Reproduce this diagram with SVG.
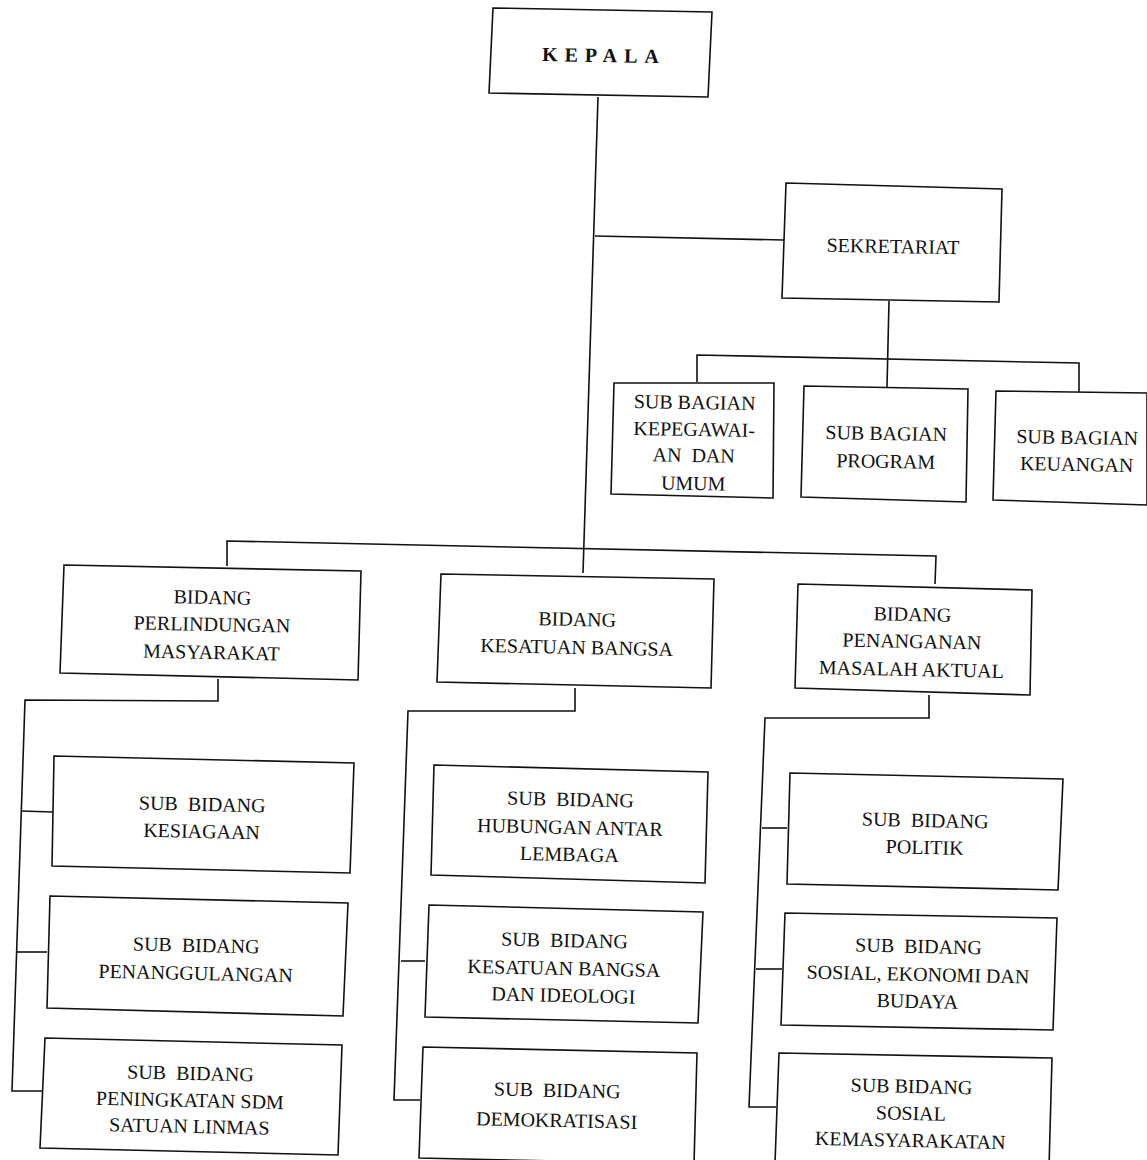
<svg xmlns="http://www.w3.org/2000/svg" width="1147" height="1160" viewBox="0 0 1147 1160">
<style>
.box{fill:none;stroke:#111;stroke-width:1.6;stroke-linejoin:miter}
.ln{fill:none;stroke:#111;stroke-width:1.6}
text{font-family:"Liberation Serif","Times New Roman",serif;font-size:20px;fill:#111;text-anchor:middle;white-space:pre}
.head{font-weight:bold;font-size:20px;letter-spacing:7px}
</style>
<rect width="1147" height="1160" fill="#fff"/>
<g id="connectors">
<path class="ln" d="M598,97 L583,573"/>
<path class="ln" d="M595,236 L784,240"/>
<path class="ln" d="M889,301 L887,387"/>
<path class="ln" d="M697,382 L697,355 L1079,363 L1079,392"/>
<path class="ln" d="M227,566 L227,541 L936,556 L935,584"/>
<path class="ln" d="M218,679 L218,701 L25,700 L12,1091 L42,1091"/>
<path class="ln" d="M21,811 L53,812"/>
<path class="ln" d="M17,952 L47,952"/>
<path class="ln" d="M575,688 L575,711 L408,711 L394,1100 L420,1100"/>
<path class="ln" d="M401,961 L425,961"/>
<path class="ln" d="M929,695 L929,718 L765,718 L749,1107 L776,1107"/>
<path class="ln" d="M762,828 L787,828"/>
<path class="ln" d="M756,969 L782,969"/>
</g>
<g id="kepala">
<polygon class="box" points="493,8 712,12 708,97 489,93"/>
<text class="head" x="604" y="62" transform="rotate(1 600 55)">KEPALA</text>
</g>
<g id="sekretariat">
<polygon class="box" points="786,183 1002,189 999,302 782,298"/>
<text x="893" y="253" transform="rotate(1 893 246)">SEKRETARIAT</text>
</g>
<g id="sub-bagian-kepegawaian">
<polygon class="box" points="614,383 774,383 773,498 611,494"/>
<g transform="rotate(1 693 440)">
<text x="694" y="409">SUB BAGIAN</text>
<text x="694" y="436">KEPEGAWAI-</text>
<text x="694" y="462">AN  DAN</text>
<text x="694" y="490">UMUM</text>
</g>
</g>
<g id="sub-bagian-program">
<polygon class="box" points="804,386 968,389 966,502 801,497"/>
<g transform="rotate(1 886 447)">
<text x="886" y="440">SUB BAGIAN</text>
<text x="886" y="468">PROGRAM</text>
</g>
</g>
<g id="sub-bagian-keuangan">
<polygon class="box" points="996,391 1147,393 1147,505 993,500"/>
<g transform="rotate(1 1077 447)">
<text x="1077" y="444">SUB BAGIAN</text>
<text x="1077" y="471">KEUANGAN</text>
</g>
</g>
<g id="bidang-perlindungan">
<polygon class="box" points="64,565 361,571 358,680 60,673"/>
<g transform="rotate(1.2 212 622)">
<text x="212" y="604">BIDANG</text>
<text x="212" y="631">PERLINDUNGAN</text>
<text x="212" y="659">MASYARAKAT</text>
</g>
</g>
<g id="bidang-kesatuan">
<polygon class="box" points="441,574 714,579 711,688 437,682"/>
<g transform="rotate(1.2 577 631)">
<text x="577" y="626">BIDANG</text>
<text x="577" y="654">KESATUAN BANGSA</text>
</g>
</g>
<g id="bidang-penanganan">
<polygon class="box" points="798,584 1032,590 1030,695 795,688"/>
<g transform="rotate(1.2 913 639)">
<text x="912" y="621">BIDANG</text>
<text x="912" y="648">PENANGANAN</text>
<text x="912" y="676">MASALAH AKTUAL</text>
</g>
</g>
<g id="sub-bidang-kesiagaan">
<polygon class="box" points="54,756 354,763 350,873 52,866"/>
<g transform="rotate(1.3 203 815)">
<text x="202" y="811">SUB  BIDANG</text>
<text x="202" y="838">KESIAGAAN</text>
</g>
</g>
<g id="sub-bidang-penanggulangan">
<polygon class="box" points="50,896 348,903 343,1016 47,1008"/>
<g transform="rotate(1.3 197 956)">
<text x="196" y="952">SUB  BIDANG</text>
<text x="196" y="980">PENANGGULANGAN</text>
</g>
</g>
<g id="sub-bidang-peningkatan">
<polygon class="box" points="45,1038 342,1045 338,1155 40,1148"/>
<g transform="rotate(1.3 191 1096)">
<text x="190" y="1080">SUB  BIDANG</text>
<text x="190" y="1107">PENINGKATAN SDM</text>
<text x="190" y="1133">SATUAN LINMAS</text>
</g>
</g>
<g id="sub-bidang-hubungan">
<polygon class="box" points="434,765 708,772 705,883 431,875"/>
<g transform="rotate(1.3 570 824)">
<text x="570" y="806">SUB  BIDANG</text>
<text x="570" y="834">HUBUNGAN ANTAR</text>
<text x="570" y="861">LEMBAGA</text>
</g>
</g>
<g id="sub-bidang-ideologi">
<polygon class="box" points="429,905 703,912 698,1023 425,1017"/>
<g transform="rotate(1.3 564 964)">
<text x="564" y="947">SUB  BIDANG</text>
<text x="564" y="975">KESATUAN BANGSA</text>
<text x="564" y="1002">DAN IDEOLOGI</text>
</g>
</g>
<g id="sub-bidang-demokratisasi">
<polygon class="box" points="423,1047 697,1053 694,1164 419,1158"/>
<g transform="rotate(1.3 558 1105)">
<text x="557" y="1097">SUB  BIDANG</text>
<text x="557" y="1127">DEMOKRATISASI</text>
</g>
</g>
<g id="sub-bidang-politik">
<polygon class="box" points="790,773 1063,779 1058,890 787,884"/>
<g transform="rotate(1.3 925 831)">
<text x="925" y="827">SUB  BIDANG</text>
<text x="925" y="854">POLITIK</text>
</g>
</g>
<g id="sub-bidang-sosial-ekonomi">
<polygon class="box" points="785,913 1057,918 1053,1030 781,1025"/>
<g transform="rotate(1.3 919 971)">
<text x="918" y="953">SUB  BIDANG</text>
<text x="918" y="981">SOSIAL, EKONOMI DAN</text>
<text x="918" y="1008">BUDAYA</text>
</g>
</g>
<g id="sub-bidang-kemasyarakatan">
<polygon class="box" points="779,1053 1052,1058 1049,1168 775,1163"/>
<g transform="rotate(1.3 912 1110)">
<text x="911" y="1093">SUB BIDANG</text>
<text x="911" y="1120">SOSIAL</text>
<text x="911" y="1147">KEMASYARAKATAN</text>
</g>
</g>
</svg>
